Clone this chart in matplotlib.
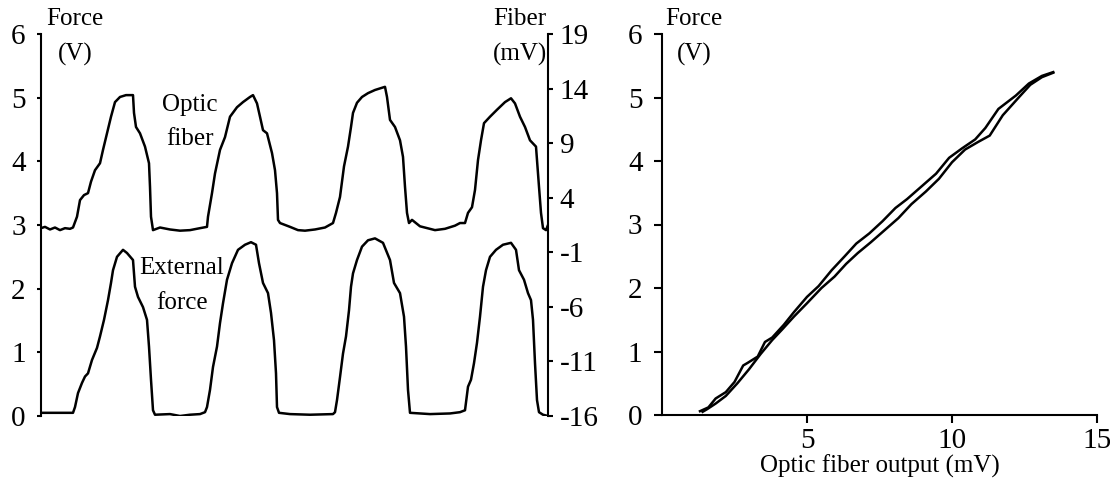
import numpy as np
import matplotlib
matplotlib.use("Agg")
import matplotlib.pyplot as plt

plt.rcParams['font.family'] = ['Liberation Serif', 'DejaVu Serif']
plt.rcParams['font.size'] = 18
plt.rcParams['axes.unicode_minus'] = False

# time trace, sample number along the record
fiber_t = [0, 4, 9, 14, 19, 24, 29, 32, 36, 39, 43, 47, 50, 54, 59, 62, 66, 70, 74, 79, 85, 92,
           93, 95, 99, 104, 108, 109, 110, 112, 119, 129, 139, 149, 159, 166,
           167, 171, 174, 179, 184, 189, 196, 202, 209, 212, 216, 219, 222, 226, 231, 234, 236, 237,
           239, 249, 257, 264, 274, 284, 292,
           295, 299, 303, 307, 310, 312, 316, 321, 327, 334, 344, 346, 349, 354, 359, 362, 364, 366,
           368, 371, 379, 394, 404, 414, 419, 424,
           427, 431, 434, 437, 440, 443, 449, 456, 464, 470, 474, 479, 484, 489, 495, 498, 500,
           502, 505, 507]
fiber_mv = [1.21, 1.33, 1.09, 1.27, 1.03, 1.21, 1.15, 1.27, 2.26, 3.78, 4.24, 4.42, 5.47, 6.52, 7.16,
            8.38, 9.90, 11.42, 12.76, 13.23, 13.40, 13.40,
            11.77, 10.48, 9.90, 8.68, 7.16, 5.00, 2.26, 1.03, 1.27, 1.09, 0.98, 1.03, 1.21, 1.33,
            2.26, 4.42, 6.22, 8.38, 9.55, 11.42, 12.29, 12.76, 13.23, 13.40, 12.64, 11.42, 10.19,
            9.90, 8.09, 6.52, 4.42, 1.97,
            1.68, 1.33, 1.03, 0.98, 1.09, 1.27, 1.68,
            2.61, 4.07, 6.87, 8.68, 10.48, 11.77, 12.70, 13.23, 13.58, 13.87, 14.16, 13.23, 11.13,
            10.48, 9.26, 7.74, 5.00, 2.61,
            1.68, 1.97, 1.38, 1.03, 1.15, 1.44, 1.68, 1.68,
            2.61, 3.13, 4.71, 7.45, 9.26, 10.83, 11.42, 12.06, 12.76, 13.11, 12.64, 11.42, 10.48,
            9.26, 8.68, 5.00, 2.61,
            1.21, 1.03, 1.50]

force_t = [0, 32, 34, 37, 41, 44, 47, 51, 56, 59, 63, 67, 70, 72, 76, 82, 86, 92, 94, 97, 102,
           106, 108, 110, 112, 114, 129, 139, 149, 159, 164,
           166, 169, 172, 176, 179, 182, 186, 191, 197, 204, 210, 215, 218, 222, 227, 230, 233,
           235, 236, 238, 249, 269, 292,
           294, 296, 299, 302, 305, 308, 310, 312, 316, 321, 327, 334, 342, 349, 353, 359, 363,
           365, 367, 369, 389, 409, 419, 424,
           427, 430, 433, 436, 439, 442, 445, 449, 455, 462, 470, 475, 478, 483, 487, 490, 492,
           494, 496, 498, 502, 507]
force_v = [0.05, 0.05, 0.14, 0.36, 0.52, 0.62, 0.67, 0.88, 1.07, 1.25, 1.51, 1.82, 2.09, 2.29,
           2.50, 2.61, 2.56, 2.45, 2.03, 1.87, 1.71, 1.51, 1.09, 0.57, 0.09, 0.02, 0.03, 0.00,
           0.02, 0.03, 0.06,
           0.14, 0.41, 0.77, 1.09, 1.46, 1.77, 2.14, 2.40, 2.61, 2.69, 2.73, 2.69, 2.40, 2.09,
           1.93, 1.62, 1.19, 0.67, 0.14, 0.05, 0.03, 0.02, 0.03,
           0.06, 0.25, 0.61, 0.98, 1.25, 1.66, 2.03, 2.24, 2.45, 2.66, 2.76, 2.79, 2.72, 2.45,
           2.09, 1.93, 1.56, 1.09, 0.41, 0.05, 0.03, 0.04, 0.06, 0.09,
           0.46, 0.57, 0.83, 1.15, 1.56, 2.03, 2.29, 2.50, 2.61, 2.69, 2.72, 2.61, 2.29, 2.14,
           1.93, 1.82, 1.51, 0.83, 0.25, 0.06, 0.02, 0.00]

# force against fiber output, loading and unloading branches
load_mv = [1.31, 1.60, 1.85, 2.20, 2.50, 2.80, 2.95, 3.30, 3.55, 3.80, 4.20, 4.55, 5.00, 5.40,
           5.85, 6.30, 6.70, 7.15, 7.60, 8.05, 8.45, 9.00, 9.45, 9.90, 10.35, 10.80, 11.15,
           11.60, 12.20, 12.65, 13.10, 13.49]
load_v = [0.06, 0.12, 0.26, 0.36, 0.52, 0.78, 0.82, 0.92, 1.15, 1.22, 1.42, 1.62, 1.86, 2.03,
          2.28, 2.50, 2.70, 2.86, 3.05, 3.26, 3.40, 3.62, 3.80, 4.05, 4.20, 4.34, 4.52, 4.82,
          5.03, 5.22, 5.34, 5.40]
unload_mv = [13.49, 13.10, 12.70, 12.30, 11.75, 11.30, 10.90, 10.45, 10.00, 9.55, 9.10, 8.60,
             8.15, 7.70, 7.20, 6.75, 6.35, 5.95, 5.50, 5.00, 4.55, 4.15, 3.80, 3.40, 3.00, 2.60,
             2.20, 1.85, 1.55, 1.40]
unload_v = [5.39, 5.32, 5.20, 5.00, 4.72, 4.40, 4.30, 4.18, 3.98, 3.72, 3.52, 3.32, 3.10, 2.92,
            2.72, 2.55, 2.38, 2.18, 2.00, 1.76, 1.55, 1.35, 1.18, 0.96, 0.72, 0.50, 0.30, 0.18,
            0.09, 0.05]

W, H = 1110, 487
fig = plt.figure(figsize=(W / 100, H / 100), dpi=100)

def box(x0, y0, x1, y1):
    return [x0 / W, 1 - y1 / H, (x1 - x0) / W, (y1 - y0) / H]

def label(x, y, s):
    fig.text(x / W, 1 - y / H, s, ha='center', va='center')

LW = 1.8
TICK_FS = 21

# left panel: time traces
ax = fig.add_axes(box(41, 34, 548, 416))
ax.plot(force_t, force_v, color='black', lw=LW)
ax.set_xlim(0, 507)
ax.set_ylim(0, 6)
ax.set_yticks(range(7))
ax.set_xticks([])
for s in ['top', 'right', 'bottom']:
    ax.spines[s].set_visible(False)
ax.spines['left'].set_linewidth(1.5)
ax.tick_params(axis='y', direction='out', length=3, width=1.5, pad=8, labelsize=TICK_FS)

ax2 = ax.twinx()
ax2.plot(fiber_t, fiber_mv, color='black', lw=LW)
ax2.set_ylim(-16, 19)
ax2.set_yticks(range(-16, 20, 5))
for s in ['top', 'left', 'bottom']:
    ax2.spines[s].set_visible(False)
ax2.spines['right'].set_linewidth(1.5)
ax2.tick_params(axis='y', direction='out', length=3.5, width=1.5, pad=5, labelsize=TICK_FS)

label(75, 19, 'Force')
label(75, 54, '(V)')
label(520, 19, 'Fiber')
label(520, 54, '(mV)')
label(190, 105, 'Optic')
label(190, 139, 'fiber')
label(182, 268, 'External')
label(182, 303, 'force')

# right panel: force vs fiber output
bx = fig.add_axes(box(662, 34, 1097, 415))
bx.plot(load_mv, load_v, color='black', lw=LW)
bx.plot(unload_mv, unload_v, color='black', lw=LW)
bx.set_xlim(0, 15)
bx.set_ylim(0, 6)
bx.set_xticks([5, 10, 15])
bx.set_yticks(range(7))
for s in ['top', 'right']:
    bx.spines[s].set_visible(False)
for s in ['left', 'bottom']:
    bx.spines[s].set_linewidth(1.5)
bx.tick_params(direction='out', length=6, width=1.5, labelsize=TICK_FS)
bx.tick_params(axis='y', pad=8)
bx.tick_params(axis='x', pad=3)
bx.set_xlabel('Optic fiber output (mV)', fontsize=18, labelpad=1)

label(694, 19, 'Force')
label(694, 54, '(V)')

fig.savefig('out.png', dpi=100)
